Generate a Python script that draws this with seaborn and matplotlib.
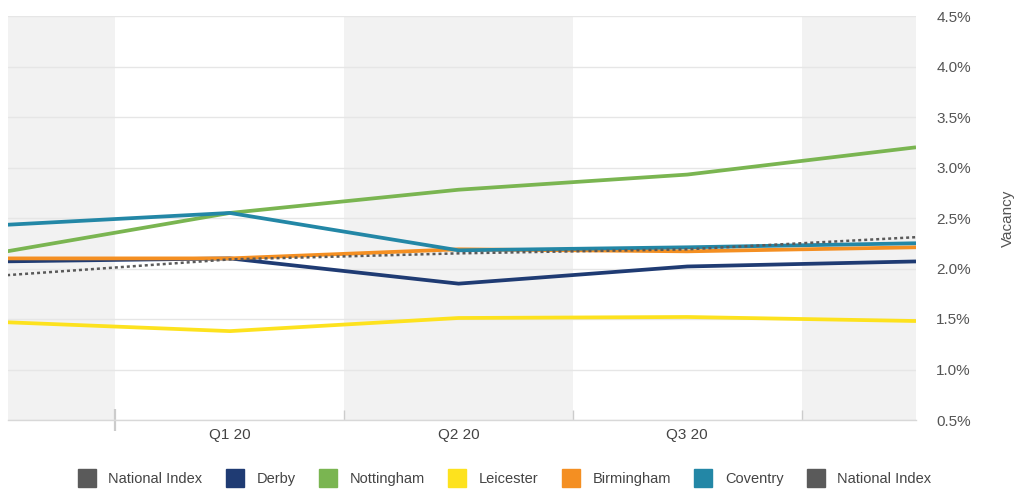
import matplotlib
matplotlib.use("Agg")
import matplotlib.pyplot as plt
from matplotlib.lines import Line2D
from matplotlib.ticker import FuncFormatter, MultipleLocator
import seaborn as sns
import pandas as pd

# ---- data ----
quarters = ["Q4 19", "Q1 20", "Q2 20", "Q3 20", "Q4 20"]
tick_labels = ["Q1 20", "Q2 20", "Q3 20"]
derby = [2.07, 2.10, 1.85, 2.02, 2.07]
nottingham = [2.16, 2.55, 2.78, 2.93, 3.20]
leicester = [1.47, 1.38, 1.51, 1.52, 1.48]
birmingham = [2.10, 2.10, 2.19, 2.17, 2.21]
coventry = [2.43, 2.55, 2.18, 2.21, 2.25]
national_index = [1.93, 2.09, 2.15, 2.19, 2.31]

series_names = ["Derby", "Nottingham", "Leicester", "Birmingham", "Coventry", "National Index"]
series_values = [derby, nottingham, leicester, birmingham, coventry, national_index]
colors = {
    "Derby": "#1f3b73",
    "Nottingham": "#7ab551",
    "Leicester": "#fde21e",
    "Birmingham": "#f48f22",
    "Coventry": "#2387a6",
    "National Index": "#5a5a5a",
}
legend_order = ["National Index", "Derby", "Nottingham", "Leicester", "Birmingham", "Coventry", "National Index"]

rows = []
for name, vals in zip(series_names, series_values):
    for i, v in enumerate(vals):
        rows.append({"x": i, "value": v, "series": name})
df = pd.DataFrame(rows)

sns.set_theme(style="white")
plt.rcParams["font.family"] = ["Liberation Sans", "DejaVu Sans"]

fig = plt.figure(figsize=(10.24, 4.9), dpi=100)
ax = fig.add_axes([8 / 1024, 1 - 420 / 490, 908 / 1024, 404 / 490])

xmin, xmax = 0.03, 4.0
# alternating quarter bands
for a, b in [(xmin, 0.5), (1.5, 2.5), (3.5, xmax)]:
    ax.axvspan(a, b, color="#f2f2f2", lw=0, zorder=0)

ax.set_ylim(0.5, 4.5)
ax.yaxis.set_major_locator(MultipleLocator(0.5))
ax.grid(axis="y", color="#e6e6e6", lw=1, zorder=1)
ax.grid(axis="x", visible=False)

solid = [n for n in series_names if n != "National Index"]
sns.lineplot(data=df[df.series.isin(solid)], x="x", y="value", hue="series",
             hue_order=solid, palette=colors, lw=2.7, legend=False, ax=ax,
             solid_capstyle="butt", zorder=3)
sns.lineplot(data=df[df.series == "National Index"], x="x", y="value",
             color=colors["National Index"], lw=1.8, ls=(0, (1.2, 1.2)),
             legend=False, ax=ax, zorder=4)

ax.set_xlim(xmin, xmax)
ax.set_xticks([1, 2, 3])
ax.set_xticklabels(tick_labels)
ax.set_xticks([0.5, 1.5, 2.5, 3.5], minor=True)
ax.tick_params(axis="x", which="major", bottom=False, length=0, pad=6, labelsize=11, labelcolor="#444444")
ax.tick_params(axis="x", which="minor", bottom=True, length=7, width=1, color="#cccccc", direction="in")
first = ax.xaxis.get_minor_ticks()[0]
first.tick1line.set_marker("|")
first.tick1line.set_markersize(16)
first.tick1line.set_markeredgewidth(1.6)
first.tick1line.set_color("#8a8a8a")

ax.yaxis.tick_right()
ax.yaxis.set_label_position("right")
ax.yaxis.set_major_formatter(FuncFormatter(lambda v, p: f"{v:.1f}%"))
ax.tick_params(axis="y", length=0, pad=27, labelsize=11, labelcolor="#555555")
for lab in ax.get_yticklabels():
    lab.set_horizontalalignment("center")
ax.set_ylabel("Vacancy", rotation=90, fontsize=11, color="#555555", labelpad=22)
ax.set_xlabel("")

for s in ["top", "left", "right"]:
    ax.spines[s].set_visible(False)
ax.spines["bottom"].set_color("#d8d8d8")
ax.spines["bottom"].set_linewidth(1)

handles = [Line2D([], [], marker="s", ls="", markersize=13, markerfacecolor=colors[n],
                  markeredgecolor=colors[n]) for n in legend_order]
fig.legend(handles, legend_order, loc="center", bbox_to_anchor=(0.49, 1 - 479 / 490),
           ncol=7, frameon=False, fontsize=10.5, handletextpad=0.5, columnspacing=1.2,
           labelcolor="#444444")

fig.savefig("out.png", dpi=100)
